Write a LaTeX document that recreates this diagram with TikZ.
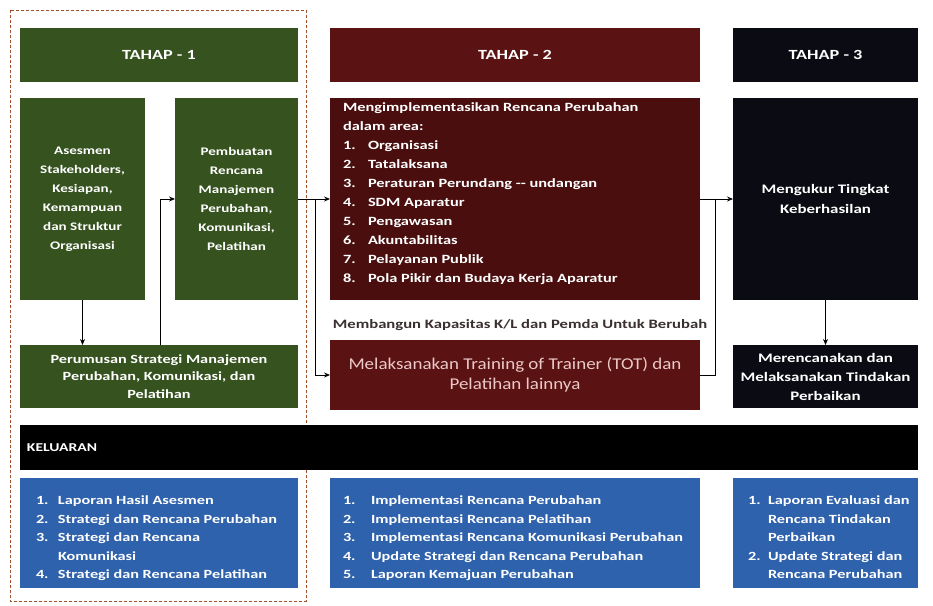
\documentclass[tikz,border=0pt]{standalone}
\usepackage{fontspec}
\setmainfont{Carlito}
\newfontfamily\fw[FakeStretch=1.3]{Carlito}
\newfontfamily\fx[FakeStretch=1.15]{Carlito}
\usetikzlibrary{arrows.meta,calc}
\definecolor{gr}{HTML}{36521F}
\definecolor{mr}{HTML}{5A1212}
\definecolor{mrb}{HTML}{4A0E0E}
\definecolor{bk}{HTML}{0B0B14}
\definecolor{bl}{HTML}{2F62AC}
\definecolor{fr}{HTML}{A0522D}
\definecolor{tt}{HTML}{3A3030}
\definecolor{pk}{HTML}{EBC9C9}
\newcommand\itm[3]{\makebox[#1][l]{#2}#3}
\begin{document}
\begin{tikzpicture}[x=1pt,y=-1pt,
  blk/.style={draw=none, inner sep=0pt, outer sep=0pt, anchor=north west, text=white,
    font=\fw\fontsize{11.6}{19}\selectfont\bfseries, align=center},
  lst/.style={inner sep=0pt, outer sep=0pt, anchor=north west, text=white, align=left,
    font=\fw\fontsize{12.5}{18.5}\selectfont\bfseries},
  arr/.style={-{Stealth[length=6pt,width=5pt]}, line width=0.8pt},
  ln/.style={line width=0.8pt}]
\useasboundingbox[fill=white] (0,0) rectangle (933,605);
% frame of stage 1
\draw[fr, densely dashed, line width=1pt] (10,10) rectangle (306,601);
% headers
\node[blk, fill=gr, minimum width=278, minimum height=54, font=\fw\fontsize{14}{16}\selectfont\bfseries] (h1) at (20,28) {TAHAP - 1};
\node[blk, fill=mr, minimum width=370, minimum height=54, font=\fw\fontsize{14}{16}\selectfont\bfseries] (h2) at (330,28) {TAHAP - 2};
\node[blk, fill=bk, minimum width=185, minimum height=54, font=\fw\fontsize{14}{16}\selectfont\bfseries] (h3) at (733,28) {TAHAP - 3};
% stage 1
\node[blk, fill=gr, minimum width=125, minimum height=202] (ases) at (20,98)
  {Asesmen\\Stakeholders,\\Kesiapan,\\Kemampuan\\dan Struktur\\Organisasi};
\node[blk, fill=gr, minimum width=123, minimum height=202] (pemb) at (175,98)
  {Pembuatan\\Rencana\\Manajemen\\Perubahan,\\Komunikasi,\\Pelatihan};
\node[blk, fill=gr, minimum width=278, minimum height=63, font=\fw\fontsize{12.5}{17.5}\selectfont\bfseries] (perum) at (20,345)
  {Perumusan Strategi Manajemen\\Perubahan, Komunikasi, dan\\Pelatihan};
% stage 2
\node[blk, fill=mrb, minimum width=370, minimum height=202] (t2) at (330,98) {};
\node[lst, font=\fw\fontsize{12.6}{19}\selectfont\bfseries] (t2txt) at (343,103)
  {Mengimplementasikan Rencana Perubahan\\dalam area:\\
   \itm{25pt}{1.}{Organisasi}\\\itm{25pt}{2.}{Tatalaksana}\\\itm{25pt}{3.}{Peraturan Perundang -- undangan}\\
   \itm{25pt}{4.}{SDM Aparatur}\\\itm{25pt}{5.}{Pengawasan}\\\itm{25pt}{6.}{Akuntabilitas}\\
   \itm{25pt}{7.}{Pelayanan Publik}\\\itm{25pt}{8.}{Pola Pikir dan Budaya Kerja Aparatur}};
\node[inner sep=0pt, text=tt, font=\fw\fontsize{12.8}{14}\selectfont\bfseries] (mb) at (520,325)
  {Membangun Kapasitas K/L dan Pemda Untuk Berubah};
\node[blk, fill=mr, minimum width=370, minimum height=70, text=pk,
  font=\fx\fontsize{16.5}{20}\selectfont] (train) at (330,340)
  {Melaksanakan Training of Trainer (TOT) dan\\Pelatihan lainnya};
% stage 3
\node[blk, fill=bk, minimum width=185, minimum height=202, font=\fw\fontsize{13}{20}\selectfont\bfseries] (t3) at (733,98)
  {Mengukur Tingkat\\Keberhasilan};
\node[blk, fill=bk, minimum width=185, minimum height=63, font=\fw\fontsize{13}{19}\selectfont\bfseries] (t3b) at (733,345)
  {Merencanakan dan\\Melaksanakan Tindakan\\Perbaikan};
% keluaran
\node[blk, fill=black, minimum width=898, minimum height=45, align=left, text width=884,
  font=\fw\fontsize{12}{14}\selectfont\bfseries] (kel) at (20,425) {KELUARAN};
\node[blk, fill=bl, minimum width=278, minimum height=110] (b1) at (20,478) {};
\node[blk, fill=bl, minimum width=370, minimum height=110] (b2) at (330,478) {};
\node[blk, fill=bl, minimum width=185, minimum height=110] (b3) at (733,478) {};
\node[lst] (b1txt) at (36,496)
  {\itm{22pt}{1.}{Laporan Hasil Asesmen}\\\itm{22pt}{2.}{Strategi dan Rencana Perubahan}\\
   \itm{22pt}{3.}{Strategi dan Rencana}\\\itm{22pt}{}{Komunikasi}\\\itm{22pt}{4.}{Strategi dan Rencana Pelatihan}};
\node[lst] (b2txt) at (343,496)
  {\itm{28pt}{1.}{Implementasi Rencana Perubahan}\\\itm{28pt}{2.}{Implementasi Rencana Pelatihan}\\
   \itm{28pt}{3.}{Implementasi Rencana Komunikasi Perubahan}\\\itm{28pt}{4.}{Update Strategi dan Rencana Perubahan}\\
   \itm{28pt}{5.}{Laporan Kemajuan Perubahan}};
\node[lst] (b3txt) at (748,496)
  {\itm{20pt}{1.}{Laporan Evaluasi dan}\\\itm{20pt}{}{Rencana Tindakan}\\\itm{20pt}{}{Perbaikan}\\
   \itm{20pt}{2.}{Update Strategi dan}\\\itm{20pt}{}{Rencana Perubahan}};
% connectors
\draw[arr] (ases.south) -- (ases.south |- perum.north);
\coordinate (p1) at ($(perum.north west)+(140,0)$);
\draw[arr] (p1) |- (pemb.west);
\coordinate (j1) at (315,0);
\draw[arr] (pemb.east) -- (t2.west);
\draw[arr] (j1 |- t2.west) |- (train.west);
\coordinate (j2) at (715,0);
\draw[arr] (t2.east) -- (t3.west);
\draw[ln] (train.east) -| (j2 |- t3.west);
\draw[arr] (t3.south) -- (t3b.north);
\end{tikzpicture}
\end{document}
